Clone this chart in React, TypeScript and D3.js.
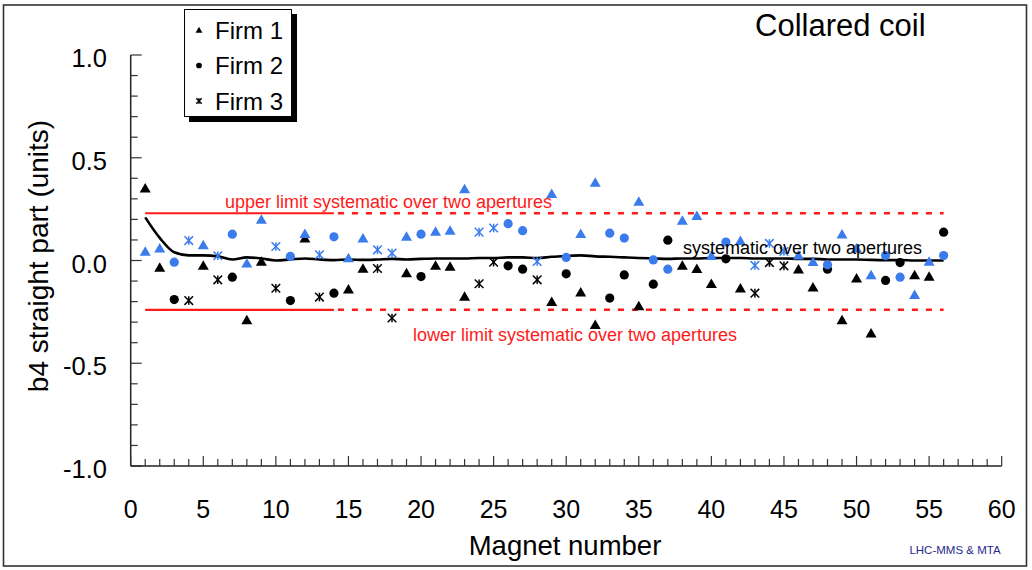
import React from "react";
import * as d3 from "d3";

// Magnet numbers per firm
const firm1Magnets = [1, 2, 5, 8, 9, 12, 15, 16, 19, 21, 22, 23, 29, 31, 32, 35, 38, 39, 40, 42, 46, 47, 49, 50, 51, 54, 55];
const firm2Magnets = [3, 7, 11, 14, 20, 26, 27, 30, 33, 34, 36, 37, 41, 48, 52, 53, 56];
const firm3Magnets = [4, 6, 10, 13, 17, 18, 24, 25, 28, 43, 44, 45];

// b4 straight part, aperture 1 (black) and aperture 2 (blue)
const firm1Ap1 = [0.352, -0.034, -0.024, -0.289, -0.005, 0.109, -0.14, -0.039, -0.061, -0.024, -0.029, -0.175, -0.2, -0.154, -0.313, -0.221, -0.024, -0.04, -0.113, -0.135, -0.042, -0.13, -0.289, -0.086, -0.354, -0.071, -0.078];
const firm1Ap2 = [0.044, 0.06, 0.076, -0.013, 0.2, 0.13, 0.012, 0.109, 0.117, 0.141, 0.146, 0.348, 0.325, 0.13, 0.38, 0.287, 0.195, 0.218, 0.023, 0.096, 0.026, -0.006, 0.128, 0.06, -0.071, -0.167, -0.005];
const firm2Ap1 = [-0.19, -0.081, -0.195, -0.159, -0.078, -0.026, -0.042, -0.065, -0.183, -0.07, -0.115, 0.099, 0.008, -0.042, -0.097, -0.01, 0.138];
const firm2Ap2 = [-0.008, 0.128, 0.02, 0.115, 0.128, 0.179, 0.145, 0.015, 0.133, 0.109, 0.003, -0.042, 0.09, -0.021, 0.024, -0.081, 0.024];
const firm3Ap1 = [-0.195, -0.094, -0.135, -0.178, -0.039, -0.28, -0.113, -0.008, -0.094, -0.159, -0.01, -0.026];
const firm3Ap2 = [0.097, 0.023, 0.068, 0.028, 0.052, 0.036, 0.138, 0.158, -0.005, -0.024, 0.083, 0.044];

// Running systematic over two apertures, magnets 1..56
const systematic = [0.21, 0.11, 0.04, 0.025, 0.025, 0.02, 0.005, 0.015, 0.01, 0.0, 0.005, 0.01, 0.005, 0.002, 0.005, 0.003, 0.005, 0.008, 0.005, 0.008, 0.01, 0.01, 0.01, 0.012, 0.012, 0.015, 0.015, 0.012, 0.018, 0.022, 0.025, 0.02, 0.018, 0.015, 0.012, 0.01, 0.008, 0.01, 0.01, 0.012, 0.012, 0.012, 0.01, 0.01, 0.01, 0.008, 0.008, 0.005, 0.005, 0.005, 0.003, 0.002, 0.002, 0.0, 0.0, 0.0];

// Limits
const upperLimit = 0.23;
const lowerLimit = -0.24;
const limitSolidEnd = 14;
const limitEnd = 56;

const xTicks = [0, 5, 10, 15, 20, 25, 30, 35, 40, 45, 50, 55, 60];
const yTicks = [1.0, 0.5, 0.0, -0.5, -1.0];

const FONT = "'Liberation Sans', Arial, Helvetica, sans-serif";
const BLUE = "#3b7cec";
const RED = "#ff1a1a";

type Shape = "tri" | "circ" | "star";

function Marker({ x, y, shape, color, s = 1 }: { x: number; y: number; shape: Shape; color: string; s?: number }) {
  if (shape === "tri") {
    const w = 5.5 * s;
    const h = 9.5 * s;
    const p = `M${x},${y - h * 0.55} L${x + w},${y + h * 0.45} L${x - w},${y + h * 0.45} Z`;
    return <path d={p} fill={color} />;
  }
  if (shape === "circ") {
    return <circle cx={x} cy={y} r={4.6 * s} fill={color} />;
  }
  const r = 4.3 * s;
  return (
    <g stroke={color} strokeWidth={1.5} fill="none">
      <line x1={x - r} y1={y - r} x2={x + r} y2={y + r} />
      <line x1={x - r} y1={y + r} x2={x + r} y2={y - r} />
      <line x1={x} y1={y - r} x2={x} y2={y + r} />
    </g>
  );
}

export default function App() {
  const x = d3.scaleLinear().domain([0, 60]).range([130.7, 1001.7]);
  const y = d3.scaleLinear().domain([-1, 1]).range([466, 55]);

  const minorX = d3.range(0, 61, 1);
  const minorY = d3.range(-10, 11, 1).map((v) => v / 10);

  const sysLine = d3
    .line<number>()
    .x((_, i) => x(i + 1))
    .y((d) => y(d))
    .curve(d3.curveMonotoneX)(systematic) as string;

  const groups: { mags: number[]; vals: number[]; shape: Shape; color: string }[] = [
    { mags: firm1Magnets, vals: firm1Ap1, shape: "tri", color: "#000" },
    { mags: firm2Magnets, vals: firm2Ap1, shape: "circ", color: "#000" },
    { mags: firm3Magnets, vals: firm3Ap1, shape: "star", color: "#000" },
    { mags: firm1Magnets, vals: firm1Ap2, shape: "tri", color: BLUE },
    { mags: firm2Magnets, vals: firm2Ap2, shape: "circ", color: BLUE },
    { mags: firm3Magnets, vals: firm3Ap2, shape: "star", color: BLUE },
  ];

  const legend = [
    { label: "Firm 1", shape: "tri" as Shape },
    { label: "Firm 2", shape: "circ" as Shape },
    { label: "Firm 3", shape: "star" as Shape },
  ];

  return (
    <div style={{ position: "fixed", left: 0, top: 0 }}>
      <svg width={1032} height={570} style={{ display: "block", fontFamily: FONT }}>
        <rect x={0} y={0} width={1032} height={570} fill="#fff" />
        {/* outer frame */}
        <rect x={3.5} y={5} width={1023} height={561} fill="none" stroke="#333" strokeWidth={1.6} />

        {/* limits */}
        {[upperLimit, lowerLimit].map((v, i) => (
          <g key={"lim" + i} stroke={RED}>
            <line x1={x(1)} x2={x(limitSolidEnd)} y1={y(v)} y2={y(v)} strokeWidth={2.2} />
            <line
              x1={x(limitSolidEnd) + 4}
              x2={x(limitEnd)}
              y1={y(v)}
              y2={y(v)}
              strokeWidth={2.4}
              strokeDasharray="6 8"
            />
          </g>
        ))}

        {/* systematic curve */}
        <path d={sysLine} fill="none" stroke="#000" strokeWidth={2.6} />

        {/* markers */}
        {groups.map((g, gi) =>
          g.mags.map((m, i) => (
            <Marker key={`m${gi}-${i}`} x={x(m)} y={y(g.vals[i])} shape={g.shape} color={g.color} />
          ))
        )}

        {/* annotations */}
        <text x={225} y={208} fontSize={18} fill={RED}>
          upper limit systematic over two apertures
        </text>
        <text x={413} y={341} fontSize={18} fill={RED}>
          lower limit systematic over two apertures
        </text>
        <text x={683} y={254} fontSize={18} fill="#000">
          systematic over two apertures
        </text>

        {/* y axis */}
        <line x1={x(0)} x2={x(0)} y1={y(1)} y2={y(-1)} stroke="#222" strokeWidth={1.5} />
        {minorY.map((v) => {
          const major = Math.abs(Math.round(v * 10) % 5) === 0;
          return (
            <line
              key={"yt" + v}
              x1={x(0)}
              x2={x(0) + (major ? 11 : 7)}
              y1={y(v)}
              y2={y(v)}
              stroke="#333"
              strokeWidth={1.2}
            />
          );
        })}
        {yTicks.map((v) => (
          <text key={"yl" + v} x={107} y={y(v) + 12} fontSize={25.5} textAnchor="end" fill="#000">
            {d3.format(".1f")(v).replace("−", "-")}
          </text>
        ))}

        {/* x axis */}
        <line x1={x(0)} x2={x(60)} y1={y(-1)} y2={y(-1)} stroke="#222" strokeWidth={1.5} />
        {minorX.map((v) => (
          <line
            key={"xt" + v}
            x1={x(v)}
            x2={x(v)}
            y1={y(-1)}
            y2={y(-1) - (v % 5 === 0 ? 10 : 7)}
            stroke="#333"
            strokeWidth={1.2}
          />
        ))}
        {xTicks.map((v) => (
          <text key={"xl" + v} x={x(v)} y={518} fontSize={25} textAnchor="middle" fill="#000">
            {v}
          </text>
        ))}

        {/* axis titles */}
        <text x={565} y={555} fontSize={27.5} textAnchor="middle" fill="#000">
          Magnet number
        </text>
        <text
          transform={`translate(48,256) rotate(-90)`}
          fontSize={28}
          textAnchor="middle"
          fill="#000"
        >
          b4 straight part (units)
        </text>

        <text x={755} y={36} fontSize={31} fill="#000">
          Collared coil
        </text>
        <text x={955} y={554} fontSize={11.5} textAnchor="middle" fill="#1f2a8c">
          LHC-MMS &amp; MTA
        </text>

        {/* legend */}
        <rect x={189} y={14} width={108} height={108} fill="#000" />
        <rect x={184.5} y={9.5} width={107} height={107} fill="#fff" stroke="#000" strokeWidth={1} />
        {legend.map((l, i) => {
          const cy = 30 + i * 35.5;
          return (
            <g key={"lg" + i}>
              <Marker x={199} y={cy} shape={l.shape} color="#000" s={0.62} />
              <text x={215} y={cy + 8.5} fontSize={24} fill="#000">
                {l.label}
              </text>
            </g>
          );
        })}
      </svg>
    </div>
  );
}
